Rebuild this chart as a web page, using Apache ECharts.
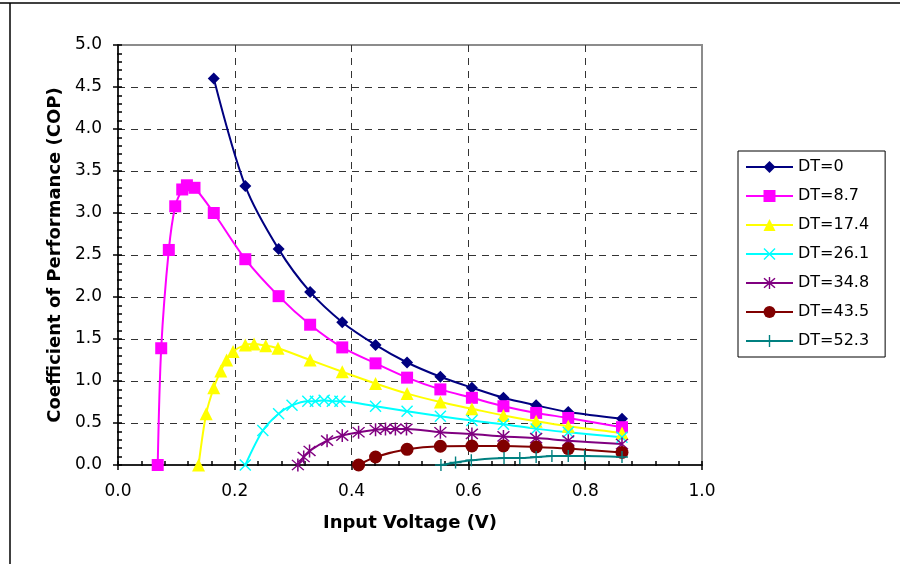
<!DOCTYPE html>
<html>
<head>
<meta charset="utf-8">
<script src="https://cdn.jsdelivr.net/npm/echarts@6/dist/echarts.min.js"></script>
<style>html,body{margin:0;padding:0;background:#fff;}#c{width:900px;height:564px;}</style>
</head>
<body>
<div id="c"></div>
<script>
var seriesNames = ['DT=0', 'DT=8.7', 'DT=17.4', 'DT=26.1', 'DT=34.8', 'DT=43.5', 'DT=52.3'];
var V0 = [0.164, 0.218, 0.275, 0.329, 0.384, 0.441, 0.495, 0.552, 0.606, 0.660, 0.716, 0.771, 0.863];
var C0 = [4.60, 3.32, 2.57, 2.06, 1.70, 1.43, 1.22, 1.05, 0.92, 0.80, 0.71, 0.63, 0.55];
var V1 = [0.068, 0.074, 0.087, 0.098, 0.110, 0.118, 0.131, 0.164, 0.218, 0.275, 0.329, 0.384, 0.441, 0.495, 0.552, 0.606, 0.660, 0.716, 0.771, 0.863];
var C1 = [0, 1.39, 2.56, 3.08, 3.28, 3.33, 3.30, 3.00, 2.45, 2.01, 1.67, 1.40, 1.21, 1.04, 0.90, 0.80, 0.70, 0.62, 0.56, 0.45];
var V2 = [0.138, 0.151, 0.164, 0.176, 0.186, 0.197, 0.218, 0.233, 0.253, 0.274, 0.329, 0.384, 0.441, 0.495, 0.552, 0.606, 0.660, 0.716, 0.771, 0.863];
var C2 = [0, 0.61, 0.92, 1.12, 1.25, 1.35, 1.43, 1.44, 1.42, 1.39, 1.25, 1.11, 0.97, 0.85, 0.75, 0.67, 0.59, 0.52, 0.46, 0.38];
var V3 = [0.218, 0.248, 0.275, 0.298, 0.325, 0.338, 0.353, 0.367, 0.380, 0.441, 0.495, 0.552, 0.606, 0.660, 0.716, 0.771, 0.863];
var C3 = [0, 0.41, 0.61, 0.71, 0.76, 0.76, 0.77, 0.76, 0.76, 0.70, 0.64, 0.58, 0.53, 0.485, 0.43, 0.39, 0.33];
var V4 = [0.308, 0.318, 0.328, 0.358, 0.384, 0.412, 0.441, 0.458, 0.475, 0.494, 0.552, 0.606, 0.660, 0.716, 0.771, 0.863];
var C4 = [0, 0.095, 0.167, 0.29, 0.35, 0.39, 0.42, 0.43, 0.43, 0.43, 0.39, 0.37, 0.34, 0.32, 0.29, 0.25];
var V5 = [0.412, 0.441, 0.495, 0.552, 0.606, 0.660, 0.716, 0.771, 0.863];
var C5 = [0, 0.095, 0.187, 0.223, 0.226, 0.226, 0.214, 0.195, 0.15];
var V6 = [0.553, 0.578, 0.605, 0.661, 0.688, 0.716, 0.743, 0.771, 0.799, 0.863];
var C6 = [0, 0.03, 0.056, 0.083, 0.083, 0.095, 0.107, 0.107, 0.107, 0.095];

var voltages = [V0, V1, V2, V3, V4, V5, V6];
var cops = [C0, C1, C2, C3, C4, C5, C6];
var colors = ['#000080', '#FF00FF', '#FFFF00', '#00FFFF', '#800080', '#800000', '#008080'];
var symXPath = 'path://M-6,-5 L-5,-6 L6,5 L5,6 Z M5,-6 L6,-5 L-5,6 L-6,5 Z';
var symStarPath = 'path://M-6,-5 L-5,-6 L6,5 L5,6 Z M5,-6 L6,-5 L-5,6 L-6,5 Z M-0.7,-7 L0.7,-7 L0.7,7 L-0.7,7 Z';
var symPlusPath = 'path://M-0.7,-6 L0.7,-6 L0.7,6 L-0.7,6 Z M-6,0.7 L-6,-0.7 L6,-0.7 L6,0.7 Z';
var symbols = ['diamond', 'rect', 'triangle', symXPath, symStarPath, 'circle', symPlusPath];
var symbolSizes = [12, 12, 13, 12, 13, 13, 12];

var FONT = 'DejaVu Sans';

function pairs(xs, ys) {
  var out = [];
  for (var i = 0; i < xs.length; i++) out.push([xs[i], ys[i]]);
  return out;
}

var series = seriesNames.map(function (n, i) {
  return {
    name: n,
    type: 'line',
    xAxisIndex: 0,
    yAxisIndex: 0,
    data: pairs(voltages[i], cops[i]),
    smooth: 0.3,
    symbol: symbols[i],
    symbolSize: symbolSizes[i],
    showAllSymbol: true,
    lineStyle: { color: colors[i], width: 2 },
    itemStyle: { color: colors[i], borderWidth: 0 },
    emphasis: { disabled: true },
    animation: false
  };
});

var TICK = { color: '#000', width: 1.5 };
var hiddenAxisBase = {
  axisLine: { show: false },
  axisLabel: { show: false },
  splitLine: { show: false }
};

var chart = echarts.init(document.getElementById('c'), null, { renderer: 'canvas' });
chart.setOption({
  animation: false,
  backgroundColor: '#fff',
  textStyle: { fontFamily: FONT },
  grid: [{
    left: 118, right: 198, top: 45, bottom: 99,
    show: true, borderColor: '#8c8c8c', borderWidth: 2, backgroundColor: 'transparent'
  }, {
    // thin helper grid whose right edge sits on the main y axis (inner ticks of y)
    left: 117, width: 1, top: 45, bottom: 99, show: false
  }, {
    // thin helper grid whose top edge sits on the main x axis (inner ticks of x)
    left: 118, right: 198, top: 465, height: 1, show: false
  }],
  legend: {
    orient: 'vertical',
    left: 738, top: 151,
    padding: [8, 16, 8, 7],
    borderColor: '#000', borderWidth: 1,
    itemWidth: 47, itemHeight: 15, itemGap: 13,
    textStyle: { fontFamily: FONT, fontSize: 16, color: '#000', lineHeight: 16 },
    data: seriesNames
  },
  xAxis: [{
    gridIndex: 0, type: 'value', min: 0, max: 1, interval: 0.2,
    name: 'Input Voltage (V)', nameLocation: 'middle', nameGap: 49,
    nameTextStyle: { fontFamily: FONT, fontSize: 18, fontWeight: 'bold', color: '#000' },
    axisLine: { show: true, onZero: false, lineStyle: { color: '#000', width: 1.5 } },
    axisTick: { show: true, inside: false, length: 5, lineStyle: TICK },
    axisLabel: { fontFamily: FONT, fontSize: 17, color: '#000', margin: 18,
      formatter: function (v) { return v.toFixed(1); } },
    splitLine: { show: true, showMaxLine: false, showMinLine: false, lineStyle: { color: '#333', type: [7, 6], width: 1 } }
  }, Object.assign({
    gridIndex: 1, type: 'value', min: 0, max: 1, show: false
  }, hiddenAxisBase), Object.assign({
    gridIndex: 2, type: 'value', min: 0, max: 1, interval: 0.2, position: 'top',
    axisTick: { show: true, inside: false, length: 5, lineStyle: TICK },
    minorTick: { show: true, splitNumber: 5, length: 5, lineStyle: TICK }
  }, hiddenAxisBase)],
  yAxis: [{
    gridIndex: 0, type: 'value', min: 0, max: 5, interval: 0.5,
    name: 'Coefficient of Performance (COP)', nameLocation: 'middle', nameGap: 53,
    nameTextStyle: { fontFamily: FONT, fontSize: 18, fontWeight: 'bold', color: '#000' },
    axisLine: { show: true, onZero: false, lineStyle: { color: '#000', width: 1.5 } },
    axisTick: { show: true, inside: false, length: 5, lineStyle: TICK },
    axisLabel: { fontFamily: FONT, fontSize: 17, color: '#000', margin: 16,
      formatter: function (v) { return v.toFixed(1); } },
    splitLine: { show: true, showMaxLine: false, showMinLine: false, lineStyle: { color: '#333', type: [7, 6], width: 1 } }
  }, Object.assign({
    gridIndex: 1, type: 'value', min: 0, max: 5, interval: 0.5, position: 'right',
    axisTick: { show: true, inside: false, length: 5, lineStyle: TICK },
    minorTick: { show: true, splitNumber: 5, length: 5, lineStyle: TICK }
  }, hiddenAxisBase), Object.assign({
    gridIndex: 2, type: 'value', min: 0, max: 1, show: false
  }, hiddenAxisBase)],
  graphic: [
    { type: 'line', shape: { x1: 0, y1: 3, x2: 900, y2: 3 }, style: { stroke: '#000', lineWidth: 1.5 }, silent: true },
    { type: 'line', shape: { x1: 10, y1: 3, x2: 10, y2: 564 }, style: { stroke: '#000', lineWidth: 1.5 }, silent: true }
  ],
  series: series
});
</script>
</body>
</html>
